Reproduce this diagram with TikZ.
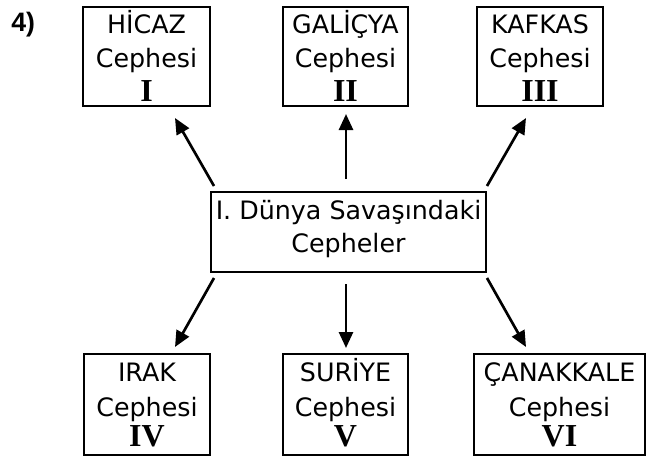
\documentclass[tikz,border=0pt]{standalone}
\usepackage{fontspec}
\setmainfont{DejaVu Sans}
\newfontfamily\numfont{Liberation Serif}
\newfontfamily\qfont{Liberation Sans}
\usetikzlibrary{arrows.meta,calc}
\begin{document}
\begin{tikzpicture}[x=0.75pt,y=-0.75pt,
  box/.style={draw, line width=1.5pt, inner sep=0pt},
  lbl/.style={anchor=base, inner sep=0pt, font=\fontsize{19}{22}\selectfont},
  num/.style={anchor=base, inner sep=0pt, font=\numfont\bfseries\fontsize{24}{26}\selectfont},
  arr/.style={line width=2pt, -{Triangle[length=12pt,width=10.5pt]}}]
\useasboundingbox (0,0) rectangle (653,457);

\node[anchor=base west, inner sep=0pt, font=\qfont\bfseries\fontsize{20}{22}\selectfont] (q) at (11,31) {4)};

% top boxes
\node[box, minimum width=95.25pt, minimum height=74.25pt] (hicaz) at (146.5,56.5) {};
\node[box, minimum width=93.75pt, minimum height=74.25pt] (galicya) at (345.5,56.5) {};
\node[box, minimum width=94.5pt, minimum height=74.25pt] (kafkas) at (540,56.5) {};
% centre
\node[box, minimum width=206.25pt, minimum height=60pt] (cen) at (348.5,232) {};
% bottom boxes
\node[box, minimum width=94.5pt, minimum height=75.75pt] (irak) at (147,404.5) {};
\node[box, minimum width=93.75pt, minimum height=75.75pt] (suriye) at (345.5,404.5) {};
\node[box, minimum width=128.25pt, minimum height=75.75pt] (canak) at (559.5,404.5) {};

% texts
\node[lbl] (hicazA) at ($(hicaz.north)+(0,27)$) {HİCAZ};
\node[lbl] (hicazB) at ($(hicaz.north)+(0,61)$) {Cephesi};
\node[num] (hicazC) at ($(hicaz.north)+(0,95)$) {I};

\node[lbl] (galA) at ($(galicya.north)+(0,27)$) {GALİÇYA};
\node[lbl] (galB) at ($(galicya.north)+(0,61)$) {Cephesi};
\node[num] (galC) at ($(galicya.north)+(0,95)$) {II};

\node[lbl] (kafA) at ($(kafkas.north)+(0,27)$) {KAFKAS};
\node[lbl] (kafB) at ($(kafkas.north)+(0,61)$) {Cephesi};
\node[num] (kafC) at ($(kafkas.north)+(0,95)$) {III};

\node[lbl] (cenA) at ($(cen.north)+(0,28)$) {I. Dünya Savaşındaki};
\node[lbl] (cenB) at ($(cen.north)+(0,61)$) {Cepheler};

\node[lbl] (irakA) at ($(irak.north)+(0,28)$) {IRAK};
\node[lbl] (irakB) at ($(irak.north)+(0,63)$) {Cephesi};
\node[num] (irakC) at ($(irak.north)+(0,93)$) {IV};

\node[lbl] (surA) at ($(suriye.north)+(0,28)$) {SURİYE};
\node[lbl] (surB) at ($(suriye.north)+(0,63)$) {Cephesi};
\node[num] (surC) at ($(suriye.north)+(0,93)$) {V};

\node[lbl] (canA) at ($(canak.north)+(0,28)$) {ÇANAKKALE};
\node[lbl] (canB) at ($(canak.north)+(0,63)$) {Cephesi};
\node[num] (canC) at ($(canak.north)+(0,93)$) {VI};

% arrows
\draw[arr] ($(cen.north west)+(4,-5)$) -- ($(hicaz.south)+(28.5,11)$);
\draw[arr] ($(cen.north)+(-2.5,-12)$) -- ($(galicya.south)+(0.5,7)$);
\draw[arr] ($(cen.north east)+(0,-5)$) -- ($(kafkas.south)+(-14,11)$);
\draw[arr] ($(cen.south west)+(4,5)$) -- ($(irak.north)+(28,-6)$);
\draw[arr] ($(cen.south)+(-2.5,11)$) -- ($(suriye.north)+(0.5,-5)$);
\draw[arr] ($(cen.south east)+(0,5)$) -- ($(canak.north)+(-33.5,-6)$);
\end{tikzpicture}
\end{document}
